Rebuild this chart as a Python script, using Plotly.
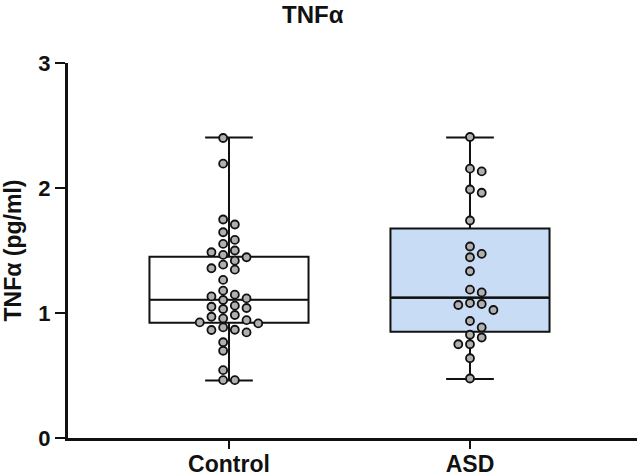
import numpy as np
import plotly.graph_objects as go

groups = ["Control", "ASD"]

control_vals = [2.40, 2.195, 1.748, 1.708, 1.646, 1.585, 1.553, 1.50, 1.486, 1.465,
                1.446, 1.419, 1.387, 1.347, 1.358, 1.265, 1.179, 1.147, 1.133, 1.117,
                1.104, 1.059, 1.050, 1.040, 1.032, 0.970, 0.984, 0.957, 0.943, 0.917,
                0.925, 0.885, 0.845, 0.864, 0.866, 0.766, 0.698, 0.543, 0.463, 0.463]
asd_vals = [2.408, 2.155, 2.133, 1.962, 1.988, 1.740, 1.532, 1.473, 1.446, 1.334,
            1.187, 1.165, 1.072, 1.080, 1.064, 1.024, 0.936, 0.885, 0.826, 0.804,
            0.750, 0.750, 0.638, 0.476]

# box statistics
q1 = [0.922, 0.850]
median = [1.107, 1.123]
q3 = [1.45, 1.676]
lowerfence = [0.46, 0.473]
upperfence = [2.405, 2.405]

fill_colors = ["#FFFFFF", "#C8DDF5"]
median_widths = [1.3, 2.4]

# geometry helpers
X_RANGE = [-0.668, 1.693]
PLOT_W = 569
PLOT_H = 375
px_x = (X_RANGE[1] - X_RANGE[0]) / PLOT_W
px_y = 3.0 / PLOT_H
col_step = 11.7 * px_x
min_gap = 8.5 * px_y
BOX_W = 0.66


def dodge(vals, slots):
    placed = {s: [] for s in slots}
    out = []
    for v in vals:
        chosen = slots[-1]
        for s in slots:
            if all(abs(v - u) >= min_gap for u in placed[s]):
                chosen = s
                break
        placed[chosen].append(v)
        out.append(chosen)
    return out


fig = go.Figure()
for i, g in enumerate(groups):
    fig.add_trace(go.Box(
        x=[i], q1=[q1[i]], median=[median[i]], q3=[q3[i]],
        lowerfence=[lowerfence[i]], upperfence=[upperfence[i]],
        width=BOX_W, whiskerwidth=0.3,
        fillcolor=fill_colors[i], line=dict(color="#111111", width=2),
        boxpoints=False, hoverinfo="skip", showlegend=False,
    ))
    # median line drawn on top with its own weight
    fig.add_trace(go.Scatter(
        x=[i - BOX_W / 2 + 0.004, i + BOX_W / 2 - 0.004], y=[median[i], median[i]],
        mode="lines", line=dict(color="#111111", width=median_widths[i]),
        showlegend=False, hoverinfo="skip",
    ))

all_vals = [control_vals, asd_vals]
slot_sets = [[-0.5, 0.5, -1.5, 1.5, -2.5, 2.5], [0, 1, -1, 2, -2]]
for i, vals in enumerate(all_vals):
    order = sorted(vals, reverse=True)
    offs = dodge(order, slot_sets[i])
    xs = [i + o * col_step for o in offs]
    fig.add_trace(go.Scatter(
        x=xs, y=order, mode="markers",
        marker=dict(size=8, color="#B0B0B0", line=dict(color="#111111", width=1.8)),
        showlegend=False, hoverinfo="skip",
    ))

font_b = "Liberation Sans, Arial, sans-serif"
fig.update_layout(
    width=637, height=476,
    margin=dict(l=68, r=0, t=63, b=38),
    plot_bgcolor="white", paper_bgcolor="white",
    title=dict(text="<b>TNFα</b>", x=0.491, xref="container", xanchor="center",
               y=0.969, yref="container", yanchor="middle",
               font=dict(family=font_b, size=24, color="#111111")),
    xaxis=dict(range=X_RANGE, tickvals=[0, 1], ticktext=["<b>Control</b>", "<b>ASD</b>"],
               showline=True, linecolor="#111111", linewidth=3, ticks="outside",
               ticklen=8, tickwidth=2, tickcolor="#111111", showgrid=False, zeroline=False,
               automargin=False, ticklabelstandoff=-5,
               tickfont=dict(family=font_b, size=23, color="#111111")),
    yaxis=dict(range=[0, 3], tickvals=[0, 1, 2, 3], ticktext=["<b>0</b>", "<b>1</b>", "<b>2</b>", "<b>3</b>"],
               showline=True, linecolor="#111111", linewidth=3, ticks="outside",
               ticklen=10, tickwidth=2, tickcolor="#111111", showgrid=False, zeroline=False,
               automargin=False,
               tickfont=dict(family=font_b, size=22, color="#111111"),
               title=dict(text="<b>TNFα (pg/ml)</b>", standoff=16,
                          font=dict(family=font_b, size=23, color="#111111"))),
)

fig.write_html("out.html", config={"displayModeBar": False},
               post_script="document.body.style.margin='0px';")
